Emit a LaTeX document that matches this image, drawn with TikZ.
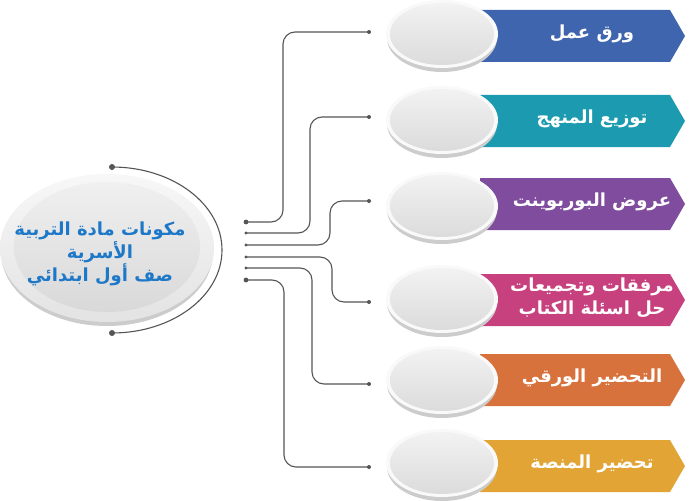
\documentclass[tikz,border=0pt]{standalone}
\usepackage{fontspec}
\newfontfamily\arabicfont[Script=Arabic, BoldFont={DejaVu Sans Bold}]{DejaVu Sans}
\TeXXeTstate=1
\definecolor{cblue}{HTML}{3F65AE}
\definecolor{cteal}{HTML}{1C9BB0}
\definecolor{cpurple}{HTML}{7F4C9E}
\definecolor{cpink}{HTML}{C7417F}
\definecolor{corange}{HTML}{D8723C}
\definecolor{cgold}{HTML}{E2A535}
\definecolor{ctitle}{HTML}{1E78C8}
\definecolor{cwire}{HTML}{555555}
\tikzset{
  wire/.style={cwire, line width=1.1pt, rounded corners=12pt},
  boxtext/.style={text=white, font=\arabicfont\bfseries\fontsize{18}{23}\selectfont, align=center},
  titletext/.style={text=ctitle, font=\arabicfont\bfseries\fontsize{18}{21}\selectfont, align=center}
}
% chevron box: y, colour, name, text
\newcommand{\tagbox}[4]{%
  \fill[#2] (480,{#1-26}) -- (670,{#1-26}) -- (685,#1) -- (670,{#1+26}) -- (480,{#1+26}) -- cycle;
  \node[boxtext] (#3) at (592,{#1-2}) {#4};
}
% grey disc: name, y
\newcommand{\disc}[2]{%
  \fill[gray!40] (442,{#2+4}) ellipse (55pt and 34pt);
  \fill[gray!5] (442,#2) ellipse (56pt and 34pt);
  \shade[top color=gray!10, bottom color=gray!28] (442,#2) ellipse (52pt and 31pt);
  \coordinate (#1) at (386,#2);
}
\begin{document}
\begin{tikzpicture}[x=1pt, y=-1pt, line join=round, line cap=round]
  \fill[white] (0,0) rectangle (700,500);
  \useasboundingbox (0,0) rectangle (700,500);

  % boxes
  \tagbox{36}{cblue}{b1}{\beginR ورق عمل\endR}
  \tagbox{121}{cteal}{b2}{\beginR توزيع المنهج\endR}
  \tagbox{204}{cpurple}{b3}{\beginR عروض البوربوينت\endR}
  \tagbox{300}{cpink}{b4}{\beginR مرفقات وتجميعات\endR\\\beginR حل اسئلة الكتاب\endR}
  \tagbox{380}{corange}{b5}{\beginR التحضير الورقي\endR}
  \tagbox{466}{cgold}{b6}{\beginR تحضير المنصة\endR}

  % discs
  \disc{d1}{34}
  \disc{d2}{120}
  \disc{d3}{206}
  \disc{d4}{299}
  \disc{d5}{380}
  \disc{d6}{463}

  % centre disc
  \fill[gray!40] (107,252) ellipse (106pt and 74pt);
  \shade[top color=gray!6, bottom color=gray!22] (107,248) ellipse (107pt and 74pt);
  \shade[top color=gray!12, bottom color=gray!30] (107,247) ellipse (93pt and 65pt);
  \node[titletext] (title) at (100,254) {\beginR مكونات مادة التربية\endR\\\beginR الأسرية\endR\\\beginR صف أول ابتدائي\endR};

  % arc round the centre
  \coordinate (t1) at (112,167);
  \coordinate (t2) at (112,333);
  \draw[cwire, line width=1.1pt] (t1) arc[start angle=90, end angle=-90, x radius=110pt, y radius=83pt];
  \fill[cwire] (t1) circle (3pt) (t2) circle (3pt);

  % wires
  \coordinate (s1) at (246,222);
  \coordinate (s2) at (246,233);
  \coordinate (s3) at (246,245);
  \coordinate (s4) at (246,257);
  \coordinate (s5) at (246,268);
  \coordinate (s6) at (246,280);
  \coordinate (e1) at (369,32);
  \coordinate (e2) at (369,117);
  \coordinate (e3) at (369,201);
  \coordinate (e4) at (369,302);
  \coordinate (e5) at (369,384);
  \coordinate (e6) at (369,467);
  \draw[wire] (s1) -- ++(37,0) |- (e1);
  \draw[wire] (s2) -- ++(64,0) |- (e2);
  \draw[wire] (s3) -- ++(84,0) |- (e3);
  \draw[wire] (s4) -- ++(86,0) |- (e4);
  \draw[wire] (s5) -- ++(66,0) |- (e5);
  \draw[wire] (s6) -- ++(38,0) |- (e6);
  \foreach \p in {s2,s3,s4,s5} \fill[cwire] (\p) circle (1.6pt);
  \foreach \p in {s1,s6} \fill[cwire] (\p) circle (2.4pt);
  \foreach \p in {e1,e2,e3,e4,e5,e6} \fill[cwire] (\p) circle (2pt);
\end{tikzpicture}
\end{document}
